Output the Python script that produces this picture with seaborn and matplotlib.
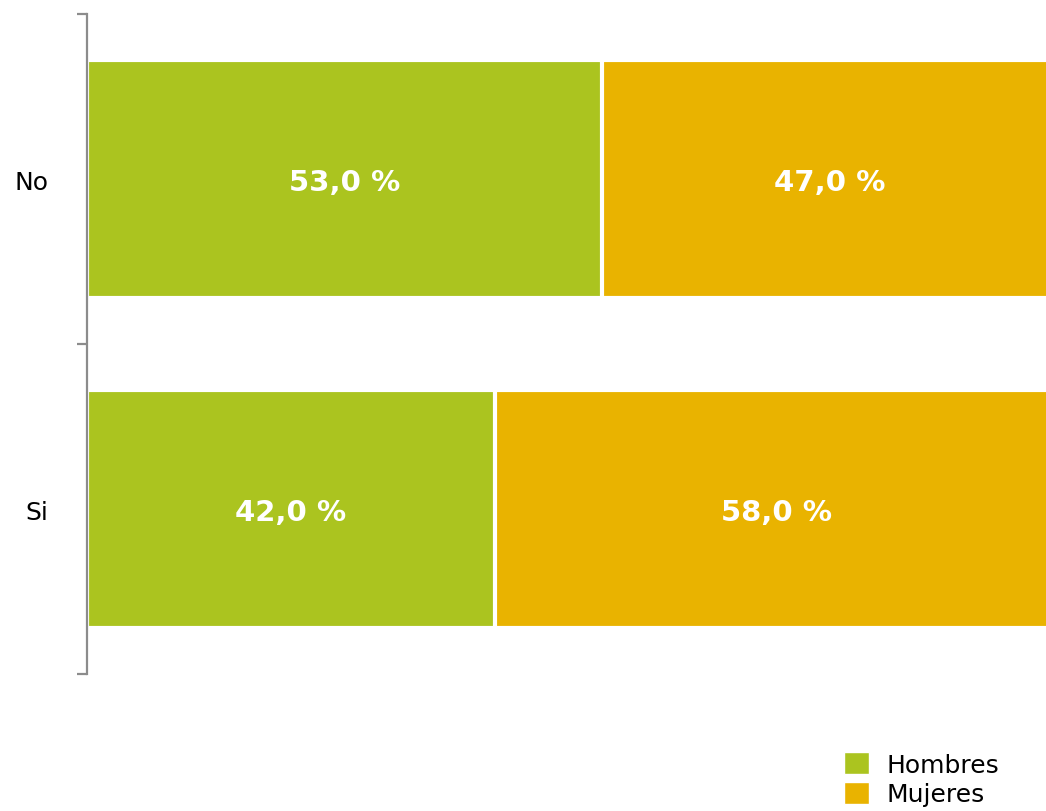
import pandas as pd
import matplotlib.pyplot as plt
import seaborn as sns
from matplotlib.patches import Patch

categorias = ['No', 'Si']
hombres = [53.0, 42.0]
mujeres = [47.0, 58.0]

verde = '#abc41f'
naranja = '#e9b300'

df = pd.DataFrame({'Respuesta': categorias, 'Hombres': hombres, 'Mujeres': mujeres})
df['Total'] = df['Hombres'] + df['Mujeres']

sns.set_style('white')
plt.rcParams['font.family'] = ['DejaVu Sans']

fig = plt.figure(figsize=(10.46, 8.12), dpi=100)
ax = fig.add_axes([87 / 1046, 1 - 675 / 812, 971 / 1046, 660 / 812])

# barra total (mujeres) y encima la de hombres
sns.barplot(data=df, x='Total', y='Respuesta', orient='h', color=naranja, width=0.72,
            edgecolor='white', linewidth=3, saturation=1, ax=ax)
sns.barplot(data=df, x='Hombres', y='Respuesta', orient='h', color=verde, width=0.72,
            edgecolor='white', linewidth=3, saturation=1, ax=ax)

ax.set_xlim(0, 100)
ax.set_ylim(1.5, -0.5)

# etiquetas dentro de cada segmento
for i, row in df.iterrows():
    ax.text(row['Hombres'] / 2, i + 0.01, f"{row['Hombres']:.1f} %".replace('.', ','),
            ha='center', va='center', color='white', fontsize=21, fontweight='bold')
    ax.text(row['Hombres'] + row['Mujeres'] / 2, i + 0.01, f"{row['Mujeres']:.1f} %".replace('.', ','),
            ha='center', va='center', color='white', fontsize=21, fontweight='bold')

for s in ['top', 'right', 'bottom']:
    ax.spines[s].set_visible(False)
ax.spines['left'].set_color('#8c8c8c')
ax.spines['left'].set_linewidth(1.6)

ax.set_xticks([])
ax.set_xlabel('')
ax.set_ylabel('')
ax.set_yticks([-0.5, 0.5, 1.5])
ax.set_yticklabels([])
ax.set_yticks([0, 1], minor=True)
ax.set_yticklabels(categorias, minor=True)
ax.tick_params(axis='y', which='major', length=7, width=1.6, color='#8c8c8c', direction='out', left=True)
ax.tick_params(axis='y', which='minor', length=0, pad=28, labelsize=18, labelcolor='black')

handles = [Patch(facecolor=verde, label='Hombres'), Patch(facecolor=naranja, label='Mujeres')]
fig.legend(handles=handles, loc='lower right', bbox_to_anchor=(0.972, -0.016), frameon=False,
           fontsize=18, labelcolor='black', handlelength=1.0, handleheight=1.0, handletextpad=0.7,
           labelspacing=0.2, borderpad=0.2)

fig.savefig('out.png', dpi=100)
